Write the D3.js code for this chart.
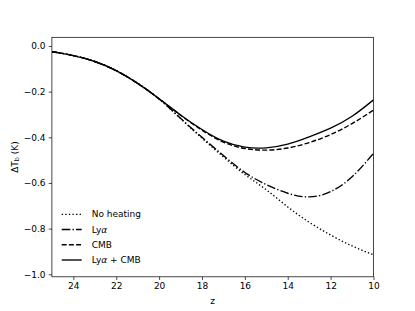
<!DOCTYPE html>
<html>
<head>
<meta charset="utf-8">
<script src="https://cdn.jsdelivr.net/npm/d3@7"></script>
<style>
  body { margin: 0; background: #fff; }
  svg { display: block; font-family: "DejaVu Sans", sans-serif; }
</style>
</head>
<body>
<svg id="chart" width="415" height="311"></svg>
<script>
// redshift samples and brightness temperature offsets (K)
var zs = [25, 24, 23, 22, 21, 20, 19, 18, 17, 16, 15, 14, 13, 12, 11, 10];
var noHeating = [-0.025, -0.042, -0.068, -0.108, -0.164, -0.232, -0.318, -0.404, -0.486, -0.563, -0.630, -0.705, -0.772, -0.828, -0.876, -0.915];
var lyaHeat   = [-0.025, -0.042, -0.068, -0.108, -0.164, -0.232, -0.317, -0.400, -0.480, -0.554, -0.607, -0.645, -0.661, -0.638, -0.573, -0.470];
var cmbHeat   = [-0.025, -0.042, -0.068, -0.108, -0.164, -0.231, -0.303, -0.369, -0.421, -0.449, -0.456, -0.447, -0.423, -0.388, -0.340, -0.281];
var bothHeat  = [-0.025, -0.042, -0.068, -0.108, -0.164, -0.231, -0.302, -0.366, -0.417, -0.443, -0.446, -0.430, -0.398, -0.360, -0.308, -0.236];
var xTicks = [24, 22, 20, 18, 16, 14, 12, 10];
var yTicks = [0, -0.2, -0.4, -0.6, -0.8, -1.0];

var series = [
    {name: "No heating", vals: noHeating, dash: "1.35,2.23"},
    {name: "Lyα", vals: lyaHeat, dash: "8.64,2.16,1.35,2.16"},
    {name: "CMB", vals: cmbHeat, dash: "5,2.16"},
    {name: "Lyα + CMB", vals: bothHeat, dash: null}
];

var svg = d3.select("#chart");
var ax = {left: 51.9, right: 373.5, top: 37.3, bottom: 276.8};

var x = d3.scaleLinear().domain([25, 10]).range([ax.left, ax.right]);
var y = d3.scaleLinear().domain([-1.011, 0.038]).range([ax.bottom, ax.top]);

svg.append("clipPath").attr("id", "clip")
    .append("rect")
    .attr("x", ax.left).attr("y", ax.top)
    .attr("width", ax.right - ax.left).attr("height", ax.bottom - ax.top);

var line = d3.line()
    .x(function(d){ return x(d[0]); })
    .y(function(d){ return y(d[1]); })
    .curve(d3.curveNatural);

var plot = svg.append("g").attr("clip-path", "url(#clip)");
series.forEach(function(s){
    plot.append("path")
        .datum(d3.zip(zs, s.vals))
        .attr("d", line)
        .attr("fill", "none")
        .attr("stroke", "#000")
        .attr("stroke-width", 1.35)
        .attr("stroke-dasharray", s.dash);
});

// axes
var xAxis = d3.axisBottom(x).tickValues(xTicks).tickFormat(d3.format("d"))
    .tickSize(3.15).tickPadding(3.15).tickSizeOuter(0);
var yAxis = d3.axisLeft(y).tickValues(yTicks).tickFormat(d3.format(".1f"))
    .tickSize(3.15).tickPadding(3.15).tickSizeOuter(0);

var gx = svg.append("g").attr("transform", "translate(0," + ax.bottom + ")").call(xAxis);
var gy = svg.append("g").attr("transform", "translate(" + ax.left + ",0)").call(yAxis);
[gx, gy].forEach(function(g){
    g.select(".domain").remove();
    g.selectAll("line").attr("stroke", "#000").attr("stroke-width", 0.72);
    g.selectAll("text").attr("fill", "#000").style("font-size", "9px")
        .style("font-family", "DejaVu Sans");
});

svg.append("rect")
    .attr("x", ax.left).attr("y", ax.top)
    .attr("width", ax.right - ax.left).attr("height", ax.bottom - ax.top)
    .attr("fill", "none").attr("stroke", "#000").attr("stroke-width", 0.72);

// labels
svg.append("text")
    .attr("x", (ax.left + ax.right) / 2).attr("y", 303.5)
    .attr("text-anchor", "middle").style("font-size", "9px")
    .text("z");

var yl = svg.append("text")
    .attr("transform", "translate(18," + ((ax.top + ax.bottom) / 2) + ") rotate(-90)")
    .attr("text-anchor", "middle").style("font-size", "9px");
yl.append("tspan").text("ΔT");
yl.append("tspan").attr("baseline-shift", "-20%").style("font-size", "6.5px").text("b");
yl.append("tspan").text(" (K)");

// legend
var legY = d3.scaleLinear().domain([0, 3]).range([214.3, 260]);
var leg = svg.append("g");
series.forEach(function(s, i){
    var yy = legY(i);
    leg.append("line")
        .attr("x1", 61.7).attr("x2", 81.7)
        .attr("y1", yy).attr("y2", yy)
        .attr("stroke", "#000").attr("stroke-width", 1.35)
        .attr("stroke-dasharray", s.dash);
    var t = leg.append("text")
        .attr("x", 91.7).attr("y", yy).attr("dy", "0.35em")
        .style("font-size", "9px");
    if (s.name.indexOf("α") >= 0) {
        var parts = s.name.split("α");
        t.append("tspan").text(parts[0]);
        t.append("tspan").style("font-style", "italic").text("α");
        t.append("tspan").text(parts[1]);
    } else {
        t.text(s.name);
    }
});
</script>
</body>
</html>
